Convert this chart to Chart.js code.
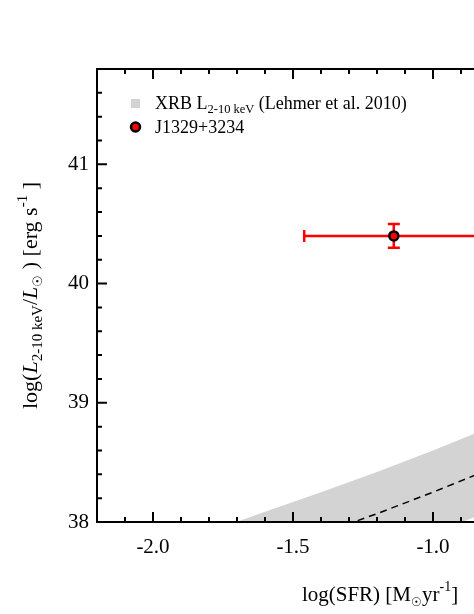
<!DOCTYPE html>
<html>
<head>
<meta charset="utf-8">
<script src="https://cdn.jsdelivr.net/npm/chart.js@4.4.1/dist/chart.umd.min.js"></script>
<style>
  html, body { margin: 0; padding: 0; background: #fff; overflow: hidden; }
  #wrap { width: 680px; height: 614px; }
</style>
</head>
<body>
<div id="wrap"><canvas id="chart" width="680" height="614"></canvas></div>
<script>
// XRB band (Lehmer et al. 2010)
const bandX = [-2.2, -2.0, -1.8, -1.6, -1.4, -1.2, -1.0, -0.8, -0.6, -0.4, -0.2];
const bandUpper = [37.60, 37.76, 37.92, 38.085, 38.25, 38.42, 38.60, 38.79, 38.98, 39.17, 39.37];
const bandMid = [37.25, 37.41, 37.57, 37.735, 37.90, 38.07, 38.25, 38.44, 38.63, 38.82, 39.02];
const bandLower = [36.90, 37.06, 37.22, 37.385, 37.55, 37.72, 37.90, 38.09, 38.28, 38.47, 38.67];

// J1329+3234
const pointX = [-1.14];
const pointY = [40.40];
const xErrLow = [0.32];
const xErrHigh = [0.32];
const yErr = [0.10];

const xTicks = [-2.0, -1.5, -1.0, -0.5];
const yTicks = [38, 39, 40, 41];

const FONT = "'Liberation Serif', 'DejaVu Serif', serif";

function xy(xs, ys) {
  return xs.map((v, i) => ({x: v, y: ys[i]}));
}

// text made of runs (sub/superscripts)
function runsWidth(ctx, runs) {
  let w = 0;
  runs.forEach(r => {
    ctx.font = (r.italic ? 'italic ' : '') + r.size + 'px ' + FONT;
    w += ctx.measureText(r.t).width;
  });
  return w;
}
function drawRuns(ctx, runs, x, y) {
  runs.forEach(r => {
    ctx.font = (r.italic ? 'italic ' : '') + r.size + 'px ' + FONT;
    ctx.fillText(r.t, x, y + (r.dy || 0));
    x += ctx.measureText(r.t).width;
  });
}

const errorBars = {
  id: 'errorBars',
  beforeDatasetDraw(chart, args) {
    if (args.index !== 3) return;
    const {ctx, scales: {x, y}} = chart;
    ctx.save();
    ctx.strokeStyle = '#ff0000';
    ctx.lineWidth = 2.5;
    pointX.forEach((v, i) => {
      const px = x.getPixelForValue(v), py = y.getPixelForValue(pointY[i]);
      const x0 = x.getPixelForValue(v - xErrLow[i]);
      const x1 = x.getPixelForValue(v + xErrHigh[i]);
      const y0 = y.getPixelForValue(pointY[i] - yErr[i]);
      const y1 = y.getPixelForValue(pointY[i] + yErr[i]);
      ctx.beginPath();
      ctx.moveTo(x0, py); ctx.lineTo(x1, py);
      ctx.moveTo(x0, py - 6); ctx.lineTo(x0, py + 6);
      ctx.moveTo(x1, py - 6); ctx.lineTo(x1, py + 6);
      ctx.moveTo(px, y0); ctx.lineTo(px, y1);
      ctx.moveTo(px - 6, y0); ctx.lineTo(px + 6, y0);
      ctx.moveTo(px - 6, y1); ctx.lineTo(px + 6, y1);
      ctx.stroke();
    });
    ctx.restore();
  }
};

const frameTicks = {
  id: 'frameTicks',
  afterDatasetsDraw(chart) {
    const {ctx, chartArea: a, scales: {x, y}} = chart;
    ctx.save();
    ctx.strokeStyle = '#000';
    ctx.lineWidth = 2;
    ctx.strokeRect(a.left, a.top, a.right - a.left, a.bottom - a.top);
    ctx.beginPath();
    for (let k = -22; k <= -2; k++) {
      const len = (k % 5 === 0) ? 10 : 5;
      const px = x.getPixelForValue(k / 10);
      ctx.moveTo(px, a.bottom); ctx.lineTo(px, a.bottom - len);
      ctx.moveTo(px, a.top); ctx.lineTo(px, a.top + len);
    }
    for (let k = 190; k <= 209; k++) {
      const len = (k % 5 === 0) ? 10 : 5;
      const py = y.getPixelForValue(k / 5);
      ctx.moveTo(a.left, py); ctx.lineTo(a.left + len, py);
      ctx.moveTo(a.right, py); ctx.lineTo(a.right - len, py);
    }
    ctx.stroke();
    ctx.restore();
  },
  afterDraw(chart) {
    const {ctx, chartArea: a} = chart;
    ctx.save();
    ctx.fillStyle = '#000';
    ctx.textBaseline = 'alphabetic';

    // x title
    const xRuns = [
      {t: 'log(SFR) [M', size: 21},
      {t: '\u2609', size: 12, dy: 5},
      {t: 'yr', size: 21},
      {t: '-1', size: 14, dy: -10},
      {t: ']', size: 21}
    ];
    const xw = runsWidth(ctx, xRuns);
    drawRuns(ctx, xRuns, (a.left + a.right) / 2 - xw / 2 + 3, 601);

    // y title
    const yRuns = [
      {t: 'log(', size: 22},
      {t: 'L', size: 22, italic: true},
      {t: '2-10 keV', size: 15, dy: 5},
      {t: '/', size: 22},
      {t: 'L', size: 22, italic: true},
      {t: '\u2609', size: 13, dy: 5},
      {t: ' ) [erg s', size: 22},
      {t: '-1', size: 15, dy: -10},
      {t: ' ]', size: 22}
    ];
    const yw = runsWidth(ctx, yRuns);
    ctx.save();
    ctx.translate(37, (a.top + a.bottom) / 2);
    ctx.rotate(-Math.PI / 2);
    drawRuns(ctx, yRuns, -yw / 2, 0);
    ctx.restore();

    // legend
    ctx.fillStyle = '#d3d3d3';
    ctx.fillRect(131, 99, 9, 9);
    ctx.fillStyle = '#000';
    drawRuns(ctx, [
      {t: 'XRB L', size: 18},
      {t: '2-10 keV', size: 12.5, dy: 4},
      {t: ' (Lehmer et al. 2010)', size: 18}
    ], 155, 109);
    ctx.beginPath();
    ctx.arc(135.5, 127, 4.5, 0, Math.PI * 2);
    ctx.fillStyle = '#ff0000';
    ctx.fill();
    ctx.lineWidth = 2.5;
    ctx.strokeStyle = '#000';
    ctx.stroke();
    ctx.fillStyle = '#000';
    drawRuns(ctx, [{t: 'J1329+3234', size: 18}], 155, 133);
    ctx.restore();
  }
};

new Chart(document.getElementById('chart'), {
  type: 'scatter',
  data: {
    datasets: [
      {
        data: xy(bandX, bandUpper),
        showLine: true, pointRadius: 0, borderWidth: 0,
        backgroundColor: '#d3d3d3', fill: '+1', order: 3
      },
      {
        data: xy(bandX, bandLower),
        showLine: true, pointRadius: 0, borderWidth: 0,
        fill: false, order: 2
      },
      {
        data: xy(bandX, bandMid),
        showLine: true, pointRadius: 0, borderWidth: 1.5,
        borderColor: '#000', borderDash: [7, 5], fill: false, order: 1
      },
      {
        data: xy(pointX, pointY),
        pointRadius: 4.5, pointBorderWidth: 2.5,
        pointBackgroundColor: '#ff0000', pointBorderColor: '#000', order: 0
      }
    ]
  },
  options: {
    responsive: false,
    animation: false,
    devicePixelRatio: 1,
    layout: { padding: { top: 69, right: 23, bottom: 0, left: 0 } },
    plugins: { legend: { display: false }, tooltip: { enabled: false } },
    scales: {
      x: {
        type: 'linear', min: -2.2, max: -0.2,
        afterFit: s => { s.height = 92; },
        afterBuildTicks: s => { s.ticks = xTicks.map(v => ({value: v})); },
        grid: { display: false, drawTicks: false },
        border: { display: false },
        ticks: {
          padding: 13, color: '#000',
          font: { family: FONT, size: 21 },
          callback: v => v.toFixed(1)
        }
      },
      y: {
        type: 'linear', min: 38, max: 41.8,
        afterFit: s => { s.width = 97; },
        afterBuildTicks: s => { s.ticks = yTicks.map(v => ({value: v})); },
        grid: { display: false, drawTicks: false },
        border: { display: false },
        ticks: {
          padding: 8, color: '#000',
          font: { family: FONT, size: 21 },
          callback: v => String(v)
        }
      }
    }
  },
  plugins: [errorBars, frameTicks]
});
</script>
</body>
</html>
